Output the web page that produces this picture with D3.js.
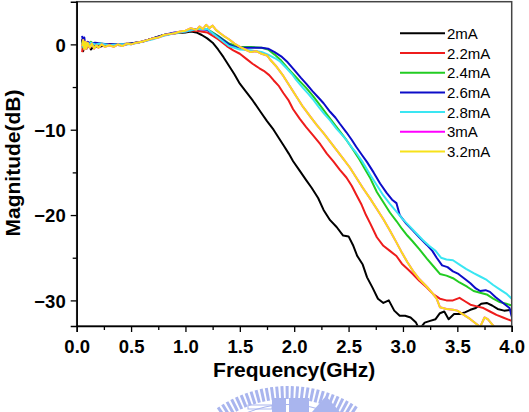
<!DOCTYPE html>
<html>
<head>
<meta charset="utf-8">
<script src="https://cdn.jsdelivr.net/npm/d3@7"></script>
<style>
	body { margin: 0; background: #fff; }
	svg { display: block; font-family: "Liberation Sans", Arial, sans-serif; }
</style>
</head>
<body>
<svg id="chart" width="529" height="412"></svg>
<script>
// frequency response per bias current, [GHz, dB]
var ma2 = [[0.05,0.6],[0.06,-0.8],[0.07,0.3],[0.09,-0.5],[0.11,0.2],[0.13,-0.6],[0.16,-0.2],[0.2,-0.3],[0.3,0.0],[0.4,-0.1],[0.5,0.1],[0.6,0.3],[0.7,0.7],[0.8,1.1],[0.9,1.3],[1.0,1.4],[1.05,1.5],[1.1,1.4],[1.15,1.1],[1.2,0.7],[1.25,0.2],[1.3,-0.6],[1.35,-1.5],[1.4,-2.5],[1.45,-3.5],[1.5,-4.6],[1.56,-5.6],[1.62,-6.6],[1.69,-7.9],[1.75,-9.0],[1.81,-10.0],[1.86,-11.0],[1.9,-11.8],[1.95,-12.8],[1.99,-13.7],[2.05,-14.8],[2.11,-15.9],[2.16,-16.8],[2.22,-18.0],[2.27,-19.4],[2.33,-20.6],[2.39,-21.4],[2.45,-22.4],[2.5,-22.5],[2.54,-23.5],[2.58,-24.8],[2.63,-25.8],[2.67,-27.3],[2.72,-28.5],[2.77,-29.8],[2.82,-30.3],[2.87,-30.0],[2.92,-31.2],[2.97,-31.8],[3.02,-31.8],[3.07,-32.0],[3.12,-32.6],[3.15,-33.4],[3.2,-32.6],[3.25,-32.4],[3.3,-32.2],[3.34,-31.5],[3.38,-31.3],[3.42,-32.2],[3.47,-31.6],[3.52,-31.6],[3.57,-31.4],[3.62,-31.1],[3.67,-30.9],[3.72,-30.4],[3.77,-30.3],[3.82,-30.6],[3.87,-31.0],[3.93,-31.2],[4.0,-31.1]];
var ma22 = [[0.05,-0.9],[0.06,0.4],[0.07,-0.5],[0.09,0.2],[0.11,-0.3],[0.14,0.1],[0.18,-0.2],[0.25,0.0],[0.35,-0.1],[0.45,0.0],[0.55,0.2],[0.65,0.5],[0.75,0.9],[0.85,1.2],[0.95,1.4],[1.05,1.6],[1.1,1.6],[1.2,1.4],[1.3,0.6],[1.38,-0.2],[1.44,-0.7],[1.5,-1.1],[1.56,-1.7],[1.62,-2.3],[1.68,-2.8],[1.72,-3.1],[1.77,-3.6],[1.81,-4.2],[1.86,-4.9],[1.9,-5.7],[1.95,-6.6],[1.99,-7.6],[2.05,-8.7],[2.11,-9.7],[2.17,-10.6],[2.24,-11.7],[2.3,-12.8],[2.36,-13.7],[2.42,-14.7],[2.48,-15.6],[2.53,-16.6],[2.57,-17.6],[2.62,-18.8],[2.66,-20.0],[2.7,-21.0],[2.76,-22.6],[2.82,-23.6],[2.88,-24.2],[2.94,-24.8],[2.99,-25.7],[3.04,-26.3],[3.09,-26.9],[3.15,-27.7],[3.22,-28.5],[3.28,-29.3],[3.34,-29.8],[3.4,-30.0],[3.46,-30.0],[3.52,-29.7],[3.57,-30.1],[3.62,-30.5],[3.68,-30.7],[3.74,-30.9],[3.8,-31.3],[3.86,-31.7],[3.92,-32.0],[4.0,-32.4]];
var ma24 = [[0.05,0.3],[0.06,-0.4],[0.08,0.2],[0.1,-0.2],[0.13,0.3],[0.17,-0.1],[0.22,0.1],[0.3,-0.1],[0.4,0.0],[0.5,0.1],[0.6,0.3],[0.7,0.7],[0.8,1.1],[0.9,1.3],[1.0,1.5],[1.1,1.8],[1.2,1.8],[1.3,1.0],[1.4,0.1],[1.5,-0.3],[1.6,-0.3],[1.7,-0.4],[1.76,-0.6],[1.82,-1.2],[1.88,-1.9],[1.94,-2.8],[2.0,-3.6],[2.05,-4.3],[2.11,-5.1],[2.17,-6.0],[2.23,-7.0],[2.3,-8.2],[2.36,-9.2],[2.42,-10.2],[2.48,-11.2],[2.54,-12.3],[2.6,-13.5],[2.65,-14.6],[2.7,-15.7],[2.76,-17.3],[2.82,-18.5],[2.88,-19.7],[2.94,-20.7],[2.99,-21.6],[3.04,-22.4],[3.09,-23.1],[3.15,-24.0],[3.22,-25.1],[3.28,-26.0],[3.34,-26.9],[3.4,-27.1],[3.46,-27.4],[3.52,-27.9],[3.59,-28.4],[3.65,-28.9],[3.71,-29.1],[3.77,-29.3],[3.83,-29.8],[3.89,-30.2],[3.95,-30.4],[4.0,-30.6]];
var ma26 = [[0.05,1.0],[0.06,0.2],[0.07,0.8],[0.08,-0.2],[0.1,0.3],[0.13,0.1],[0.17,0.2],[0.22,0.1],[0.3,0.0],[0.4,0.0],[0.5,0.1],[0.6,0.3],[0.7,0.7],[0.8,1.1],[0.9,1.4],[1.0,1.5],[1.1,1.8],[1.2,1.7],[1.3,0.9],[1.4,0.0],[1.45,-0.3],[1.5,-0.4],[1.6,-0.4],[1.7,-0.4],[1.76,-0.5],[1.82,-0.9],[1.88,-1.4],[1.94,-2.1],[2.0,-3.0],[2.06,-3.9],[2.11,-4.6],[2.17,-5.5],[2.22,-6.2],[2.27,-6.9],[2.33,-7.9],[2.38,-8.6],[2.42,-9.3],[2.48,-10.3],[2.53,-11.2],[2.57,-12.0],[2.62,-12.9],[2.67,-13.8],[2.73,-15.0],[2.79,-16.3],[2.85,-17.4],[2.9,-18.2],[2.94,-18.6],[2.97,-20.0],[3.03,-21.0],[3.09,-21.8],[3.15,-22.6],[3.22,-23.5],[3.27,-24.2],[3.31,-25.0],[3.36,-25.9],[3.41,-26.1],[3.46,-26.6],[3.51,-26.9],[3.57,-27.5],[3.62,-28.0],[3.67,-28.6],[3.71,-28.9],[3.76,-28.8],[3.8,-29.0],[3.85,-29.6],[3.9,-30.1],[3.95,-30.6],[3.98,-30.9],[4.0,-31.9]];
var ma28 = [[0.05,0.2],[0.06,-0.3],[0.08,0.3],[0.1,-0.1],[0.13,0.2],[0.17,0.0],[0.22,0.1],[0.3,-0.1],[0.4,0.0],[0.5,0.0],[0.6,0.3],[0.7,0.6],[0.8,1.0],[0.9,1.3],[1.0,1.5],[1.1,1.8],[1.2,1.8],[1.3,0.8],[1.4,-0.2],[1.5,-0.6],[1.6,-0.7],[1.7,-0.9],[1.76,-1.2],[1.82,-1.6],[1.87,-2.0],[1.93,-2.8],[1.98,-3.5],[2.02,-4.2],[2.08,-5.1],[2.13,-5.8],[2.17,-6.4],[2.23,-7.4],[2.28,-8.2],[2.33,-8.9],[2.39,-9.9],[2.44,-10.6],[2.48,-11.2],[2.53,-12.1],[2.57,-12.7],[2.63,-13.8],[2.7,-15.3],[2.76,-16.5],[2.82,-17.7],[2.88,-18.7],[2.94,-19.6],[3.0,-20.5],[3.06,-21.3],[3.12,-22.1],[3.18,-22.9],[3.24,-23.6],[3.3,-24.2],[3.35,-25.0],[3.4,-25.2],[3.46,-25.3],[3.52,-25.8],[3.58,-26.3],[3.65,-26.8],[3.71,-27.2],[3.77,-27.6],[3.83,-28.2],[3.89,-28.7],[3.95,-29.2],[4.0,-29.8]];
var ma32 = [[0.05,-0.2],[0.06,0.5],[0.07,-0.6],[0.08,0.3],[0.09,-0.5],[0.1,0.2],[0.12,-0.4],[0.14,0.1],[0.16,-0.5],[0.18,-0.1],[0.2,-0.4],[0.23,0.0],[0.26,-0.3],[0.3,-0.1],[0.34,-0.3],[0.38,0.0],[0.42,-0.2],[0.46,0.1],[0.5,0.0],[0.55,0.2],[0.6,0.3],[0.65,0.5],[0.7,0.7],[0.75,0.8],[0.8,1.1],[0.85,1.2],[0.9,1.3],[0.95,1.5],[1.0,1.6],[1.05,1.9],[1.1,1.7],[1.13,2.1],[1.16,1.8],[1.19,2.3],[1.22,1.9],[1.25,2.2],[1.28,1.7],[1.31,1.4],[1.35,1.0],[1.4,0.6],[1.45,0.1],[1.5,-0.3],[1.55,-0.6],[1.6,-0.9],[1.65,-0.8],[1.7,-1.1],[1.75,-1.3],[1.78,-1.8],[1.83,-2.5],[1.9,-3.7],[1.96,-4.9],[2.02,-6.1],[2.08,-7.3],[2.15,-8.5],[2.21,-9.5],[2.27,-10.4],[2.33,-11.4],[2.39,-12.4],[2.45,-13.4],[2.51,-14.4],[2.57,-15.6],[2.63,-16.8],[2.7,-18.1],[2.76,-19.3],[2.82,-20.5],[2.88,-21.8],[2.94,-23.2],[2.99,-24.4],[3.04,-25.5],[3.09,-26.5],[3.15,-27.5],[3.22,-28.4],[3.28,-29.3],[3.31,-29.8],[3.34,-30.8],[3.4,-31.0],[3.46,-31.1],[3.5,-31.2],[3.56,-31.7],[3.62,-32.2],[3.67,-32.7],[3.71,-33.1],[3.75,-32.0],[3.78,-32.2],[3.82,-32.8],[3.86,-33.4],[3.9,-34.0]];
// the 3mA trace sits underneath the 3.2mA one and is not visible
var ma3 = ma32;

var seriesNames = ['2mA', '2.2mA', '2.4mA', '2.6mA', '2.8mA', '3mA', '3.2mA'];
var seriesData = [ma2, ma22, ma24, ma26, ma28, ma3, ma32];
var seriesColors = ['#000000', '#ee1c1c', '#22cc22', '#0c0cc8', '#3ae6f2', '#ff00ff', '#f7e21a'];

var xTicks = [0, 0.5, 1, 1.5, 2, 2.5, 3, 3.5, 4];
var xMinor = [0.25, 0.75, 1.25, 1.75, 2.25, 2.75, 3.25, 3.75];
var yTicks = [-30, -20, -10, 0];
var yMinor = [-25, -15, -5];

var margin = {left: 76.7, right: 17.3, top: 1.7, bottom: 86};
var svg = d3.select('#chart');
var W = +svg.attr('width'), H = +svg.attr('height');
var x0 = margin.left, x1 = W - margin.right;
var y0 = margin.top, y1 = H - margin.bottom;

var x = d3.scaleLinear().domain([0, 4]).range([x0, x1]);
var y = d3.scaleLinear().domain([-33, 5]).range([y1, y0]);

// faint watermark at the bottom
var wm = svg.append('g').attr('fill', 'none').attr('stroke', '#a9b5ee');
var wcx = 288, wcy = 511;
wm.selectAll('line').data(d3.range(-34, 35, 2.4)).enter().append('line')
	.attr('x1', function(a) { return wcx + 112*Math.sin(a*Math.PI/180); })
	.attr('y1', function(a) { return wcy - 112*Math.cos(a*Math.PI/180); })
	.attr('x2', function(a) { return wcx + 125*Math.sin(a*Math.PI/180); })
	.attr('y2', function(a) { return wcy - 125*Math.cos(a*Math.PI/180); })
	.attr('stroke-width', 3);
wm.append('path')
	.attr('d', d3.arc()({innerRadius: 106, outerRadius: 107, startAngle: -0.58, endAngle: 0.58}))
	.attr('transform', 'translate(' + wcx + ',' + wcy + ')')
	.attr('fill', '#a9b5ee').attr('stroke', 'none');
wm.append('rect').attr('x', 248).attr('y', 405).attr('width', 24).attr('height', 4).attr('stroke-width', 1);
wm.append('rect').attr('x', 272).attr('y', 398).attr('width', 14).attr('height', 14).attr('fill', '#a9b5ee').attr('stroke', 'none');
wm.append('rect').attr('x', 289).attr('y', 398).attr('width', 20).attr('height', 14).attr('fill', '#a9b5ee').attr('stroke', 'none');
wm.append('path').attr('d', 'M312,412 L326,396 L340,412 Z').attr('fill', '#a9b5ee').attr('stroke', 'none');

svg.append('clipPath').attr('id', 'plotclip')
	.append('rect').attr('x', x0).attr('y', y0).attr('width', x1 - x0).attr('height', y1 - y0);

var line = d3.line()
	.x(function(d) { return x(d[0]); })
	.y(function(d) { return y(d[1]); });

var plot = svg.append('g').attr('clip-path', 'url(#plotclip)');
plot.selectAll('path.trace').data(seriesData).enter().append('path')
	.attr('class', 'trace')
	.attr('d', line)
	.attr('fill', 'none')
	.attr('stroke', function(d, i) { return seriesColors[i]; })
	.attr('stroke-width', 2)
	.attr('stroke-linejoin', 'round');

// frame
svg.append('rect')
	.attr('x', x0).attr('y', y0).attr('width', x1 - x0).attr('height', y1 - y0)
	.attr('fill', 'none').attr('stroke', '#444').attr('stroke-width', 1.5);

var tickFont = 'bold 18.5px "Liberation Sans", Arial, sans-serif';

var xAxis = svg.append('g').attr('transform', 'translate(0,' + y1 + ')')
	.call(d3.axisBottom(x).tickValues(xTicks).tickSize(6).tickPadding(8)
		.tickFormat(d3.format('.1f')));
svg.append('g').attr('transform', 'translate(0,' + y1 + ')')
	.call(d3.axisBottom(x).tickValues(xMinor).tickSize(4).tickFormat(''))
	.select('.domain').remove();

var yAxis = svg.append('g').attr('transform', 'translate(' + x0 + ',0)')
	.call(d3.axisLeft(y).tickValues(yTicks).tickSize(6).tickPadding(5));
svg.append('g').attr('transform', 'translate(' + x0 + ',0)')
	.call(d3.axisLeft(y).tickValues(yMinor).tickSize(4).tickFormat(''))
	.select('.domain').remove();

svg.selectAll('.domain').attr('stroke', '#000').attr('stroke-width', 1.5);
svg.selectAll('.tick line').attr('stroke', '#000').attr('stroke-width', 1.3);
svg.selectAll('.tick text').style('font', tickFont).attr('fill', '#000');
yAxis.selectAll('.tick text').attr('dy', '0.36em');

// axis titles
svg.append('text')
	.attr('x', (x0 + x1) / 2).attr('y', 377)
	.attr('text-anchor', 'middle')
	.style('font', 'bold 21px "Liberation Sans", Arial, sans-serif')
	.text('Frequency(GHz)');

svg.append('text')
	.attr('transform', 'translate(20,163) rotate(-90)')
	.attr('text-anchor', 'middle')
	.style('font', 'bold 21px "Liberation Sans", Arial, sans-serif')
	.text('Magnitude(dB)');

// legend
var legend = svg.append('g').attr('transform', 'translate(400,33.3)');
var rows = legend.selectAll('g').data(seriesNames).enter().append('g')
	.attr('transform', function(d, i) { return 'translate(0,' + (i * 19.7) + ')'; });
rows.append('line')
	.attr('x1', 0).attr('x2', 45).attr('y1', 0).attr('y2', 0)
	.attr('stroke', function(d, i) { return seriesColors[i]; })
	.attr('stroke-width', 2);
rows.append('text')
	.attr('x', 47).attr('y', 5.5)
	.style('font', '15px "Liberation Sans", Arial, sans-serif')
	.text(function(d) { return d; });
</script>
</body>
</html>
